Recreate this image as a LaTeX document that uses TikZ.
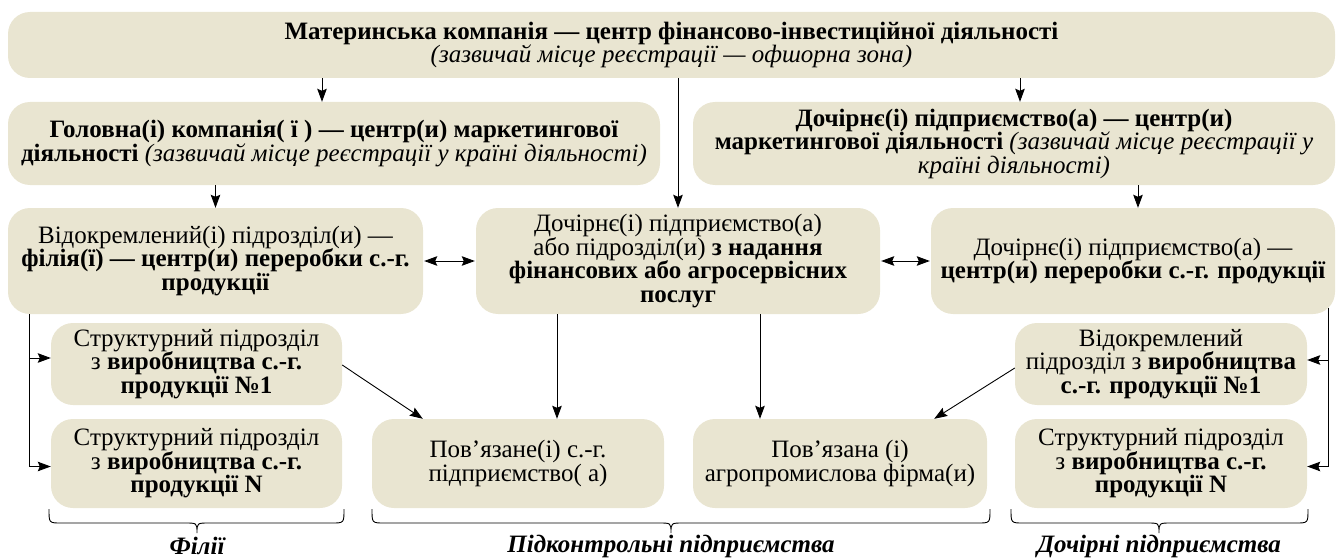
\documentclass[tikz,border=0pt]{standalone}
\usepackage{fontspec}
\setmainfont{Liberation Serif}
\usetikzlibrary{arrows.meta,calc}
\definecolor{boxfill}{RGB}{233,229,209}
\begin{document}
\begin{tikzpicture}[x=1pt,y=-1pt,
  box/.style={fill=boxfill, rounded corners=22pt, align=center, inner sep=0pt, font=\fontsize{25}{23.5}\selectfont},
  arr/.style={-{Stealth[length=13pt,width=9.5pt,inset=2pt]}, line width=0.9pt},
  dbl/.style={{Stealth[length=13pt,width=9.5pt,inset=2pt]}-{Stealth[length=13pt,width=9.5pt,inset=2pt]}, line width=0.9pt},
  ln/.style={line width=0.9pt},
  lab/.style={font=\fontsize{25}{26}\selectfont\bfseries\itshape}]
\useasboundingbox (0,0) rectangle (1339,559);
% boxes
\node[box, minimum width=1327pt, minimum height=66pt] (top) at (671.5,45)
  {\textbf{Материнська компанія — центр фінансово-інвестиційної діяльності}\\
   \textit{(зазвичай місце реєстрації — офшорна зона)}};
\node[box, minimum width=652pt, minimum height=83pt] (hol) at (334,143.5)
  {\textbf{Головна(і) компанія( ї ) — центр(и) маркетингової}\\
   \textbf{діяльності} \textit{(зазвичай місце реєстрації у країні діяльності)}};
\node[box, minimum width=642pt, minimum height=83pt] (mar) at (1014,143.5)
  {\textbf{Дочірнє(і) підприємство(а) — центр(и)}\\
   \textbf{маркетингової діяльності} \textit{(зазвичай місце реєстрації у}\\
   \textit{країні діяльності)}};
\node[box, minimum width=415pt, minimum height=106pt] (vid) at (215.5,261)
  {Відокремлений(і) підрозділ(и) —\\
   \textbf{філія(ї) — центр(и) переробки с.-г.}\\
   \textbf{продукції}};
\node[box, minimum width=404pt, minimum height=106pt] (cen) at (678,261)
  {Дочірнє(і) підприємство(а)\\
   або підрозділ(и) \textbf{з надання}\\
   \textbf{фінансових або агросервісних}\\
   \textbf{послуг}};
\node[box, minimum width=404pt, minimum height=106pt] (rig) at (1133,261)
  {Дочірнє(і) підприємство(а) —\\
   \textbf{центр(и) переробки с.-г. продукції}};
\node[box, minimum width=291pt, minimum height=82pt] (s1) at (196.5,364)
  {Структурний підрозділ\\
   з \textbf{виробництва с.-г.}\\
   \textbf{продукції №1}};
\node[box, minimum width=291pt, minimum height=89pt] (sN) at (196.5,463.5)
  {Структурний підрозділ\\
   з \textbf{виробництва с.-г.}\\
   \textbf{продукції N}};
\node[box, minimum width=292pt, minimum height=89pt] (p1) at (518,463.5)
  {Пов’язане(і) с.-г.\\ підприємство( а)};
\node[box, minimum width=294pt, minimum height=89pt] (p2) at (840,463.5)
  {Пов’язана (і)\\ агропромислова фірма(и)};
\node[box, minimum width=292pt, minimum height=82pt] (r1) at (1161,364)
  {Відокремлений\\
   підрозділ з \textbf{виробництва}\\
   \textbf{с.-г. продукції №1}};
\node[box, minimum width=292pt, minimum height=89pt] (rN) at (1161,463.5)
  {Структурний підрозділ\\
   з \textbf{виробництва с.-г.}\\
   \textbf{продукції N}};
% helper x positions
\coordinate (xa) at (322,0);
\coordinate (xb) at (1020,0);
\coordinate (xc) at (1138,0);
\coordinate (lx) at (29,0);
\coordinate (rx) at (1328,0);
\coordinate (c1) at (557,0);
\coordinate (c2) at (760,0);
% connectors
\draw[arr] (top.south -| xa) -- (hol.north -| xa);
\draw[arr] (top.south -| cen.north) -- (cen.north);
\draw[arr] (top.south -| xb) -- (mar.north -| xb);
\draw[arr] (hol.south -| vid.north) -- (vid.north);
\draw[arr] (mar.south -| xc) -- (rig.north -| xc);
\draw[dbl] ([xshift=1pt]vid.east) -- ([xshift=-1pt]cen.west);
\draw[dbl] ([xshift=1pt]cen.east) -- ([xshift=-1pt]rig.west);
\draw[arr] (vid.south -| lx) |- ($(sN.west)+(0,3)$);
\draw[arr] ($(lx |- s1.west)+(0,-6)$) -- ($(s1.west)+(0,-6)$);
\draw[arr] ($(rig.south -| rx)+(0,-6)$) |- ($(rN.east)+(0,3)$);
\draw[arr] ($(rx |- r1.east)+(0,-4)$) -- ($(r1.east)+(0,-4)$);
\draw[arr] (cen.south -| c1) -- (p1.north -| c1);
\draw[arr] (cen.south -| c2) -- (p2.north -| c2);
\draw[arr] ($(s1.east)+(0,1)$) -- ($(p1.north west)+(51,0)$);
\draw[arr] ($(r1.west)+(0,4)$) -- ($(p2.north east)+(-53,0)$);
% braces
\draw[ln] (49,509) .. controls (49,523) .. (61,523) -- (185,523) .. controls (197,523) .. (197,533)
  .. controls (197,523) .. (209,523) -- (332,523) .. controls (344,523) .. (344,509);
\draw[ln] (372,509) .. controls (372,523) .. (384,523) -- (659,523) .. controls (671,523) .. (671,533)
  .. controls (671,523) .. (683,523) -- (978,523) .. controls (990,523) .. (990,509);
\draw[ln] (1011,509) .. controls (1011,523) .. (1023,523) -- (1147,523) .. controls (1159,523) .. (1159,533)
  .. controls (1159,523) .. (1171,523) -- (1296,523) .. controls (1308,523) .. (1308,509);
% labels
\node[lab] (l1) at (197,546) {Філії};
\node[lab] (l2) at (671,546) {Підконтрольні підприємства};
\node[lab] (l3) at (1159,546) {Дочірні підприємства};
\end{tikzpicture}
\end{document}
